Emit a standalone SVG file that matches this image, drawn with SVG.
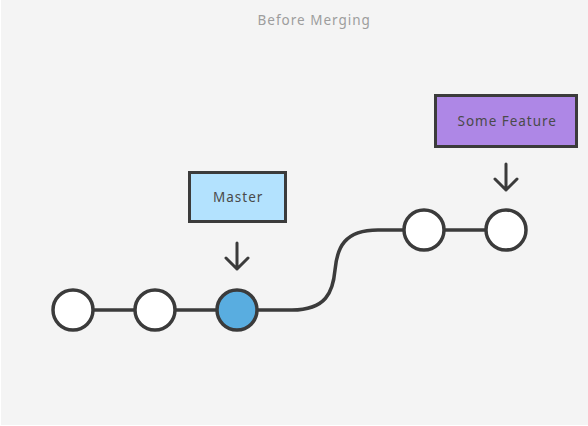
<svg xmlns="http://www.w3.org/2000/svg" width="588" height="426" viewBox="0 0 588 426">
<defs>
<style>
.commit{stroke:#3b3b3b;stroke-width:3.5;fill:#ffffff}
.cur{fill:#59ade0}
.line{stroke:#3b3b3b;stroke-width:3.5;fill:none}
.arrow{stroke:#3b3b3b;stroke-width:3;fill:none;stroke-linecap:round;stroke-linejoin:round}
.box{stroke:#3b3b3b;stroke-width:3}
.lbl{font-family:"Noto Sans",sans-serif;font-size:13.5px;fill:#4a4a4a;text-anchor:middle;letter-spacing:0.6px}
.title{font-family:"Noto Sans",sans-serif;font-size:13.5px;fill:#9d9d9d;text-anchor:middle;letter-spacing:0.6px}
</style>
</defs>
<rect x="0" y="0" width="588" height="426" fill="#ffffff"/>
<rect x="1" y="0" width="587" height="425" fill="#f4f4f4"/>
<text class="title" x="314" y="25" textLength="113" lengthAdjust="spacing">Before Merging</text>
<g id="connectors">
<line class="line" x1="93" y1="310" x2="135" y2="310"/>
<line class="line" x1="175" y1="310" x2="217" y2="310"/>
<path class="line" d="M257,310 H292 C326,310 333,292 335,270 C337,248 344,230 378,230 H404"/>
<line class="line" x1="444" y1="230" x2="486" y2="230"/>
<path class="arrow" d="M237,243 V269 M226,258 L237,269 L248,258"/>
<path class="arrow" d="M506,164 V190 M495,179 L506,190 L517,179"/>
</g>
<g id="c1"><circle class="commit" cx="73" cy="310" r="20"/></g>
<g id="c2"><circle class="commit" cx="155" cy="310" r="20"/></g>
<g id="c3"><circle class="commit cur" cx="237" cy="310" r="20"/></g>
<g id="c4"><circle class="commit" cx="424" cy="230" r="20"/></g>
<g id="c5"><circle class="commit" cx="506" cy="230" r="20"/></g>
<g id="master"><rect class="box" x="189.5" y="172.5" width="96" height="49" fill="#b3e2fe"/><text class="lbl" x="238" y="202" textLength="50" lengthAdjust="spacing">Master</text></g>
<g id="feature"><rect class="box" x="435.5" y="95.5" width="141" height="51" fill="#ae87e6"/><text class="lbl" x="507" y="126" textLength="99" lengthAdjust="spacing">Some Feature</text></g>
</svg>
